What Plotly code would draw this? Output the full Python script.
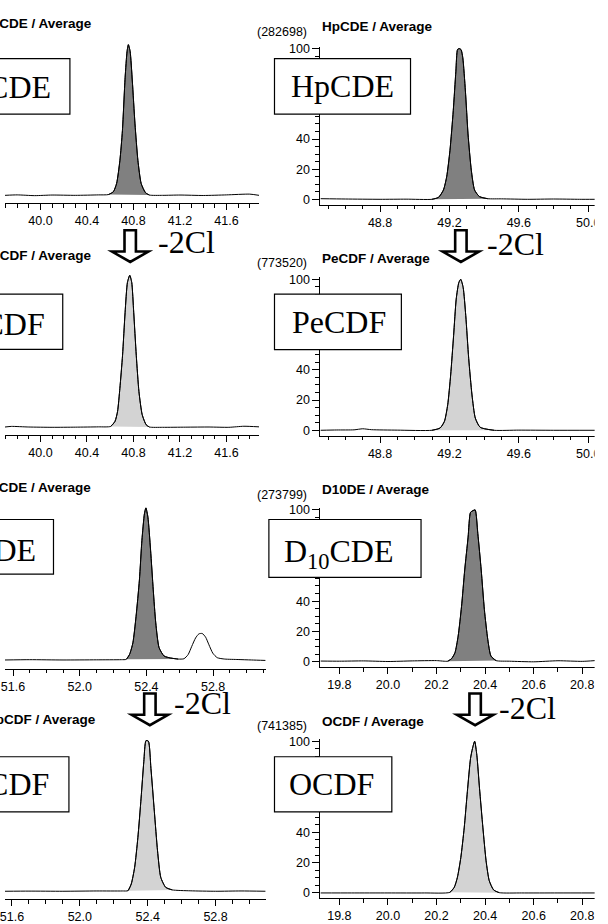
import plotly.graph_objects as go

W, H = 608, 924

# ---------------- data (retention time in min, relative intensity %) ----------------
p1_name, p1_label = "HxCDE", "HxCDE"
p1_t = [39.695, 39.80, 39.95, 40.10, 40.30, 40.50, 40.584, 40.627, 40.655, 40.683, 40.705, 40.728,
        40.745, 40.756, 40.771, 40.790, 40.813, 40.838, 40.866, 40.903, 40.937, 41.05, 41.20, 41.40,
        41.60, 41.80, 41.88]
p1_y = [0.0, 0.3, -0.2, 0.2, 0.0, 0.3, 0.5, 2.4, 7.9, 23.0, 43.0, 78.0, 95.6, 100.0, 95.6, 75.9,
        47.4, 23.2, 7.9, 1.8, 0.2, 0.0, 0.2, -0.1, 0.3, 0.8, 0.0]
p1_fill = [40.584, 40.937]

p2_name, p2_label = "HpCDE", "HpCDE"
p2_scale = "(282698)"
p2_t = [48.456, 48.60, 48.80, 48.95, 49.099, 49.137, 49.165, 49.184, 49.203, 49.222, 49.237, 49.247,
        49.257, 49.267, 49.277, 49.292, 49.307, 49.326, 49.345, 49.373, 49.421, 49.50, 49.65, 49.80,
        49.95, 50.04]
p2_y = [0.4, 0.2, 0.0, 0.1, 0.0, 1.3, 6.1, 14.9, 32.5, 58.8, 85.0, 99.5, 100.0, 99.3, 93.9, 71.9,
        43.4, 19.3, 6.1, 1.8, 0.4, 0.3, 0.0, 0.2, 0.0, 0.0]
p2_fill = [49.099, 49.421]

p3_name, p3_label = "TeCDF", "TeCDF"
p3_t = [39.695, 39.75, 39.90, 40.10, 40.30, 40.50, 40.604, 40.641, 40.663, 40.683, 40.706, 40.728,
        40.748, 40.768, 40.785, 40.802, 40.824, 40.847, 40.875, 40.909, 40.937, 41.05, 41.25, 41.45,
        41.62, 41.75, 41.88]
p3_y = [0.2, 0.6, 0.2, 0.0, 0.1, 0.3, 0.6, 3.9, 10.4, 25.7, 47.4, 75.7, 95.3, 100.0, 95.3, 75.7,
        47.4, 23.5, 8.3, 1.7, 0.2, 0.0, 0.1, 0.2, 0.0, 0.7, 0.3]
p3_fill = [40.604, 40.937]

p4_name, p4_label = "PeCDF", "PeCDF"
p4_scale = "(773520)"
p4_t = [48.456, 48.55, 48.65, 48.70, 48.75, 48.90, 49.099, 49.146, 49.171, 49.190, 49.207, 49.224,
        49.239, 49.254, 49.265, 49.279, 49.294, 49.311, 49.330, 49.349, 49.377, 49.458, 49.60, 49.80,
        50.04]
p4_y = [0.0, 0.2, 0.3, 1.0, 0.4, 0.1, 0.0, 1.5, 5.9, 16.9, 36.6, 62.8, 86.9, 97.8, 100.0, 94.6,
        76.0, 47.5, 23.4, 8.1, 2.0, 0.0, 0.1, 0.0, 0.0]
p4_fill = [49.099, 49.458]

p5_name, p5_label = "NCDE", "NCDE"
p5_t = [51.552, 51.70, 51.90, 52.10, 52.25, 52.279, 52.299, 52.319, 52.338, 52.358, 52.373, 52.388,
        52.397, 52.409, 52.425, 52.441, 52.456, 52.476, 52.506, 52.545, 52.590, 52.625, 52.650,
        52.672, 52.695, 52.715, 52.735, 52.755, 52.775, 52.798, 52.825, 52.870, 52.95, 53.03, 53.115]
p5_y = [0.0, 0.2, 0.0, 0.1, 0.2, 0.4, 3.7, 11.3, 28.7, 52.6, 78.7, 96.1, 100.0, 93.9, 72.2, 46.1,
        24.4, 8.1, 2.6, 1.3, 0.6, 0.8, 3.5, 9.0, 14.5, 17.2, 17.4, 15.0, 10.0, 4.5, 1.5, 0.6, 0.3,
        0.0, -0.3]
p5_fill = [52.279, 52.590]

p6_name, p6_label = "D10DE", "D<sub>10</sub>CDE"
p6_scale = "(273799)"
p6_t = [19.722, 19.80, 19.90, 20.00, 20.10, 20.20, 20.246, 20.262, 20.276, 20.289, 20.303, 20.316,
        20.330, 20.340, 20.350, 20.359, 20.370, 20.384, 20.397, 20.411, 20.424, 20.445, 20.50, 20.60,
        20.70, 20.80, 20.853]
p6_y = [0.6, 0.5, 0.7, 0.3, 0.7, 0.9, 0.5, 2.2, 6.1, 17.0, 36.5, 60.4, 82.1, 98.4, 99.5, 100.0,
        84.4, 60.4, 34.4, 14.8, 3.9, 0.9, 0.5, 0.1, 0.8, 0.4, 0.9]
p6_fill = [20.246, 20.445]

p7_name, p7_label = "HpCDF", "HpCDF"
p7_t = [51.559, 51.70, 51.90, 52.10, 52.25, 52.284, 52.303, 52.323, 52.342, 52.361, 52.377, 52.390,
        52.404, 52.419, 52.439, 52.458, 52.477, 52.506, 52.545, 52.65, 52.80, 52.95, 53.095]
p7_y = [0.0, 0.1, 0.0, 0.2, 0.2, 0.4, 4.8, 15.8, 35.5, 61.7, 85.8, 99.8, 99.4, 81.4, 53.0, 26.7,
        9.2, 2.6, 0.9, 0.3, 0.0, 0.2, 0.0]
p7_fill = [52.284, 52.545]

p8_name, p8_label = "OCDF", "OCDF"
p8_scale = "(741385)"
p8_t = [19.722, 19.85, 20.00, 20.15, 20.255, 20.273, 20.286, 20.300, 20.314, 20.327, 20.340, 20.348,
        20.357, 20.366, 20.377, 20.391, 20.404, 20.417, 20.435, 20.458, 20.55, 20.70, 20.853]
p8_y = [0.0, 0.0, 0.0, 0.0, 0.4, 3.7, 10.3, 23.3, 42.9, 66.9, 88.7, 95.2, 100.0, 90.8, 69.0, 42.9,
        21.2, 8.1, 2.0, 0.2, 0.0, 0.0, 0.0]
p8_fill = [20.255, 20.458]

loss_text = "-2Cl"

DARK = "#808080"
LIGHT = "#d3d3d3"

# ---------------- layout geometry (pixels) ----------------
panels = [
    dict(t=p1_t, y=p1_y, fill=p1_fill, color=DARK, side="L", xpx=(0, 258.3), tr=(39.695, 41.88),
         bottom=200, zero=192, scale=1.52, top=30, dtick=0.4, name=p1_name, label=p1_label,
         tpos=(90, 23.3), box=(-30, 66, 54, 110), lpos=(48.8, 87)),
    dict(t=p2_t, y=p2_y, fill=p2_fill, color=DARK, side="R", xpx=(320.7, 600), tr=(48.456, 50.04),
         bottom=201.5, zero=196, scale=1.52, top=42, dtick=0.4, name=p2_name, label=p2_label,
         tpos=(320.7, 26.2), box=(274, 412.3, 54, 110), lpos=(343.4, 86.5), scl=p2_scale, spos=31.7),
    dict(t=p3_t, y=p3_y, fill=p3_fill, color=LIGHT, side="L", xpx=(0, 258.3), tr=(39.695, 41.88),
         bottom=433.3, zero=426, scale=1.533, top=262, dtick=0.4, name=p3_name, label=p3_label,
         tpos=(90, 256.7), box=(-30, 58.7, 291.7, 347.3), lpos=(42.2, 325.8)),
    dict(t=p4_t, y=p4_y, fill=p4_fill, color=LIGHT, side="R", xpx=(320.7, 600), tr=(48.456, 50.04),
         bottom=434.5, zero=429, scale=1.523, top=274.7, dtick=0.4, name=p4_name, label=p4_label,
         tpos=(320.7, 260), box=(274, 403, 291.7, 347.7), lpos=(339.2, 324.7), scl=p4_scale, spos=265),
    dict(t=p5_t, y=p5_y, fill=p5_fill, color=DARK, side="L", xpx=(0, 265), tr=(51.552, 53.115),
         bottom=669.3, zero=660.7, scale=1.534, top=495, dtick=0.4, name=p5_name, label=p5_label,
         tpos=(89.3, 491.7), box=(-30, 49.3, 519, 574), lpos=(33.8, 554)),
    dict(t=p6_t, y=p6_y, fill=p6_fill, color=DARK, side="R", xpx=(320.7, 600), tr=(19.722, 20.853),
         bottom=668.2, zero=662.7, scale=1.534, top=507.3, dtick=0.2, name=p6_name, label=p6_label,
         tpos=(320.7, 493.3), box=(268.3, 423, 519, 577.3), lpos=(339.9, 558), scl=p6_scale, spos=498.3),
    dict(t=p7_t, y=p7_y, fill=p7_fill, color=LIGHT, side="L", xpx=(0, 265), tr=(51.559, 53.095),
         bottom=902.3, zero=894, scale=1.523, top=730, dtick=0.4, name=p7_name, label=p7_label,
         tpos=(95, 725), box=(-30, 65, 758.3, 814), lpos=(47.2, 790)),
    dict(t=p8_t, y=p8_y, fill=p8_fill, color=LIGHT, side="R", xpx=(320.7, 600), tr=(19.722, 20.853),
         bottom=901.2, zero=895.7, scale=1.53, top=740.7, dtick=0.2, name=p8_name, label=p8_label,
         tpos=(320.7, 727.3), box=(274, 393.3, 758.3, 814), lpos=(331.5, 790), scl=p8_scale, spos=731.7),
]

arrows = [  # (center x, top y, text left x, text center y)
    (127.3, 227.2, 153.5, 244.0),
    (463.5, 227.2, 488.5, 245.3),
    (147.3, 694.5, 169.5, 709.0),
    (478.0, 694.5, 500.0, 713.3),
]

ANN_DY = -4.5  # annotation text sits lower than its anchor by this much; compensate


def PX(px):
    return px / W


def PY(py):
    return 1 - py / H


def PYA(py):
    return PY(py + ANN_DY)


SANS = "Liberation Sans, Arial, sans-serif"
SERIF = "Liberation Serif, Times New Roman, serif"

fig = go.Figure()
layout = dict(width=W, height=H, margin=dict(l=0, r=0, t=0, b=0), paper_bgcolor="white",
              plot_bgcolor="rgba(0,0,0,0)", showlegend=False)
shapes = []
annotations = []

for i, p in enumerate(panels, start=1):
    xa = "x" if i == 1 else f"x{i}"
    ya = "y" if i == 1 else f"y{i}"
    xk = "xaxis" if i == 1 else f"xaxis{i}"
    yk = "yaxis" if i == 1 else f"yaxis{i}"
    lo, hi = p["fill"]
    ft = [a for a in p["t"] if lo <= a <= hi]
    fy = [b for a, b in zip(p["t"], p["y"]) if lo <= a <= hi]
    line = dict(color="black", width=1, shape="spline", smoothing=0.6)
    fig.add_trace(go.Scatter(x=ft, y=fy, mode="lines", fill="toself", fillcolor=p["color"],
                             line=line, xaxis=xa, yaxis=ya, hoverinfo="skip"))
    fig.add_trace(go.Scatter(x=p["t"], y=p["y"], mode="lines", line=line, xaxis=xa, yaxis=ya,
                             name=p["name"]))

    yr = [(p["zero"] - p["bottom"]) / p["scale"], (p["zero"] - p["top"]) / p["scale"]]
    layout[xk] = dict(domain=[PX(p["xpx"][0]), PX(p["xpx"][1])], range=list(p["tr"]), anchor=ya,
                      showline=True, linecolor="black", linewidth=1, ticks="outside", ticklen=6,
                      tickwidth=1, tickcolor="black", tick0=0, dtick=p["dtick"], tickformat=".1f",
                      minor=dict(dtick=0.1, tick0=0, ticks="outside", ticklen=3.5, tickwidth=1,
                                 tickcolor="black", showgrid=False),
                      showgrid=False, zeroline=False, fixedrange=True, ticklabeloverflow="allow",
                      tickfont=dict(family=SANS, size=12.5, color="black"))
    layout[yk] = dict(domain=[PY(p["bottom"]), PY(p["top"])], range=yr, anchor=xa,
                      visible=(p["side"] == "R"), showline=True, linecolor="black", linewidth=1,
                      ticks="outside", ticklen=7, tickwidth=1, tickcolor="black", tick0=0, dtick=20,
                      minor=dict(dtick=5, tick0=0, ticks="outside", ticklen=4, tickwidth=1,
                                 tickcolor="black", showgrid=False),
                      showgrid=False, zeroline=False, fixedrange=True,
                      tickfont=dict(family=SANS, size=12.5, color="black"))

    # white label box
    bx0, bx1, by0, by1 = p["box"]
    shapes.append(dict(type="rect", xref="paper", yref="paper", x0=PX(bx0), x1=PX(bx1),
                       y0=PY(by1), y1=PY(by0), fillcolor="white",
                       line=dict(color="black", width=1.2), layer="above"))
    lx, ly = p["lpos"]
    annotations.append(dict(text=p["label"], xref="paper", yref="paper", x=PX(lx), y=PYA(ly),
                            xanchor="right" if p["side"] == "L" else "center", yanchor="middle",
                            showarrow=False, font=dict(family=SERIF, size=32, color="black")))
    # title
    tx, ty = p["tpos"]
    annotations.append(dict(text=f"<b>{p['name']} / Average</b>", xref="paper", yref="paper",
                            x=PX(tx), y=PYA(ty), xanchor="right" if p["side"] == "L" else "left",
                            yanchor="middle", showarrow=False,
                            font=dict(family=SANS, size=13.5, color="black")))
    if "scl" in p:
        annotations.append(dict(text=p["scl"], xref="paper", yref="paper", x=PX(309.5),
                                y=PYA(p["spos"]), xanchor="right", yanchor="middle",
                                showarrow=False, font=dict(family=SANS, size=12.5, color="black")))

for cx, ty, tx, tcy in arrows:
    sw, hw, sh, ah = 5.8, 18.5, 21.5, 32.0
    pts = [(cx - sw, ty), (cx + sw, ty), (cx + sw, ty + sh), (cx + hw, ty + sh), (cx, ty + ah),
           (cx - hw, ty + sh), (cx - sw, ty + sh)]
    path = "M " + " L ".join(f"{PX(a):.5f},{PY(b):.5f}" for a, b in pts) + " Z"
    shapes.append(dict(type="path", xref="paper", yref="paper", path=path, fillcolor="white",
                       line=dict(color="black", width=2.6), layer="above"))
    annotations.append(dict(text=loss_text, xref="paper", yref="paper", x=PX(tx), y=PYA(tcy),
                            xanchor="left", yanchor="middle", showarrow=False,
                            font=dict(family=SERIF, size=32, color="black")))

# right-hand crop edge of the original figure
shapes.append(dict(type="rect", xref="paper", yref="paper", x0=PX(599.5), x1=1.0, y0=0, y1=1,
                   fillcolor="white", line=dict(width=0), layer="above"))

layout["shapes"] = shapes
layout["annotations"] = annotations
fig.update_layout(**layout)
fig.write_html("out.html", config=dict(displayModeBar=False, staticPlot=True),
               post_script="document.documentElement.style.margin='0';"
                           "document.body.style.margin='0';"
                           "document.body.style.overflow='hidden';")
